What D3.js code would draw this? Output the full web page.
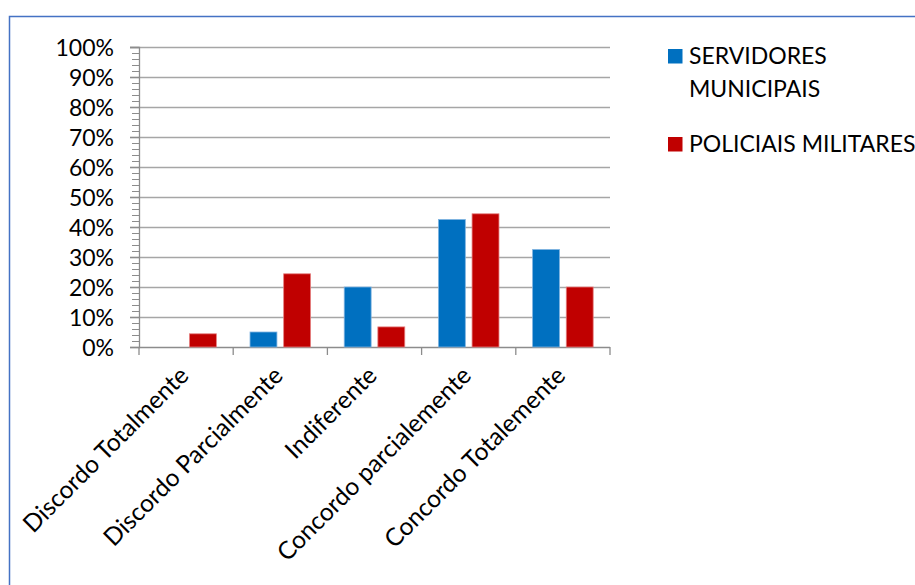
<!DOCTYPE html>
<html>
<head>
<meta charset="utf-8">
<script src="https://cdn.jsdelivr.net/npm/d3@7"></script>
<style>
  html, body { margin: 0; padding: 0; background: #fff; }
  svg { display: block; }
  text { font-family: Lato, "Open Sans", sans-serif; fill: #000; }
</style>
</head>
<body>
<svg id="chart" width="915" height="585"></svg>
<script>
// Survey answers by response category
const categories = [
  "Discordo Totalmente",
  "Discordo Parcialmente",
  "Indiferente",
  "Concordo parcialemente",
  "Concordo Totalemente"
];
const seriesNames = ["SERVIDORES MUNICIPAIS", "POLICIAIS MILITARES"];
const servidores = [0, 5.0, 20.0, 42.5, 32.5];
const policiais = [4.4, 24.4, 6.7, 44.4, 20.0];
const yTicks = [0, 10, 20, 30, 40, 50, 60, 70, 80, 90, 100];
const colors = ["#0070C0", "#C00000"];
const edgeColors = ["#7fb3e0", "#e58080"];

const svg = d3.select("#chart");

// outer frame
svg.append("path")
  .attr("d", "M9.5,585 L9.5,16.5 L915,16.5")
  .attr("fill", "none")
  .attr("stroke", "#4472C4")
  .attr("stroke-width", 1.5);

const plot = { left: 139, right: 610, top: 47, bottom: 347 };

const x = d3.scaleBand()
  .domain(categories)
  .range([plot.left, plot.right])
  .paddingInner(0)
  .paddingOuter(0);

const y = d3.scaleLinear()
  .domain([0, 100])
  .range([plot.bottom, plot.top]);

// horizontal gridlines
svg.append("g")
  .selectAll("line")
  .data(yTicks.filter(d => d > 0))
  .join("line")
  .attr("x1", plot.left - 9)
  .attr("x2", plot.right)
  .attr("y1", d => Math.round(y(d)) + 0.5)
  .attr("y2", d => Math.round(y(d)) + 0.5)
  .attr("stroke", "#a6a6a6")
  .attr("stroke-width", 1.3);

// minor ticks every 2%
svg.append("g")
  .selectAll("line")
  .data(d3.range(0, 101, 2).filter(d => d % 10 !== 0))
  .join("line")
  .attr("x1", plot.left - 7)
  .attr("x2", plot.left)
  .attr("y1", d => y(d) + 0.5)
  .attr("y2", d => y(d) + 0.5)
  .attr("stroke", "#8c8c8c")
  .attr("stroke-width", 1);

// y axis
const yAxis = d3.axisLeft(y)
  .tickValues(yTicks)
  .tickSize(9)
  .tickPadding(16)
  .tickFormat(d => d + "%");

const yg = svg.append("g")
  .attr("transform", `translate(${plot.left},0)`)
  .call(yAxis);
yg.select(".domain").attr("stroke", "#8c8c8c").attr("stroke-width", 1.3);
yg.selectAll(".tick line").attr("stroke", "#8c8c8c").attr("stroke-width", 1.3);
yg.selectAll(".tick text")
  .attr("font-size", 23)
  .attr("font-family", "Lato, 'Open Sans', sans-serif")
  .attr("dy", "0.36em")
  .attr("fill", "#000");

// x axis baseline and category separators
const xg = svg.append("g");
xg.append("line")
  .attr("x1", plot.left)
  .attr("x2", plot.right)
  .attr("y1", plot.bottom + 0.5)
  .attr("y2", plot.bottom + 0.5)
  .attr("stroke", "#8c8c8c")
  .attr("stroke-width", 1.3);
const bounds = categories.map(c => x(c)).concat([x.range()[1]]);
xg.selectAll("line.sep")
  .data(bounds)
  .join("line")
  .attr("class", "sep")
  .attr("x1", d => d)
  .attr("x2", d => d)
  .attr("y1", plot.bottom)
  .attr("y2", plot.bottom + 8)
  .attr("stroke", "#8c8c8c")
  .attr("stroke-width", 1.3);

// category labels, rotated
xg.selectAll("text")
  .data(categories)
  .join("text")
  .attr("transform", d => `translate(${x(d) + x.bandwidth() / 2 + 4},${plot.bottom + 30}) rotate(-45)`)
  .attr("text-anchor", "end")
  .attr("font-size", 24.5)
  .text(d => d);

// bars
const inner = d3.scaleBand()
  .domain([0, 1])
  .range([0, x.bandwidth()])
  .paddingInner(0.2)
  .paddingOuter(0.5);

const series = [servidores, policiais];
series.forEach((vals, si) => {
  svg.append("g")
    .selectAll("rect")
    .data(vals)
    .join("rect")
    .attr("x", (d, i) => x(categories[i]) + inner(si))
    .attr("width", inner.bandwidth())
    .attr("y", d => y(d))
    .attr("height", d => y(0) - y(d))
    .attr("fill", colors[si])
    .attr("stroke", d => d > 0 ? edgeColors[si] : "none")
    .attr("stroke-width", 0.8);
});

// legend
const legend = svg.append("g");
const legendRows = [
  { lines: ["SERVIDORES", "MUNICIPAIS"], y: 64 },
  { lines: ["POLICIAIS MILITARES"], y: 152 }
];
legendRows.forEach((row, i) => {
  legend.append("rect")
    .attr("x", 668)
    .attr("y", row.y - 15)
    .attr("width", 14.5)
    .attr("height", 14.5)
    .attr("fill", colors[i]);
  const t = legend.append("text")
    .attr("x", 689)
    .attr("y", row.y)
    .attr("font-size", 23);
  row.lines.forEach((ln, j) => {
    t.append("tspan")
      .attr("x", 689)
      .attr("dy", j === 0 ? 0 : 32.5)
      .text(ln);
  });
});
</script>
</body>
</html>
